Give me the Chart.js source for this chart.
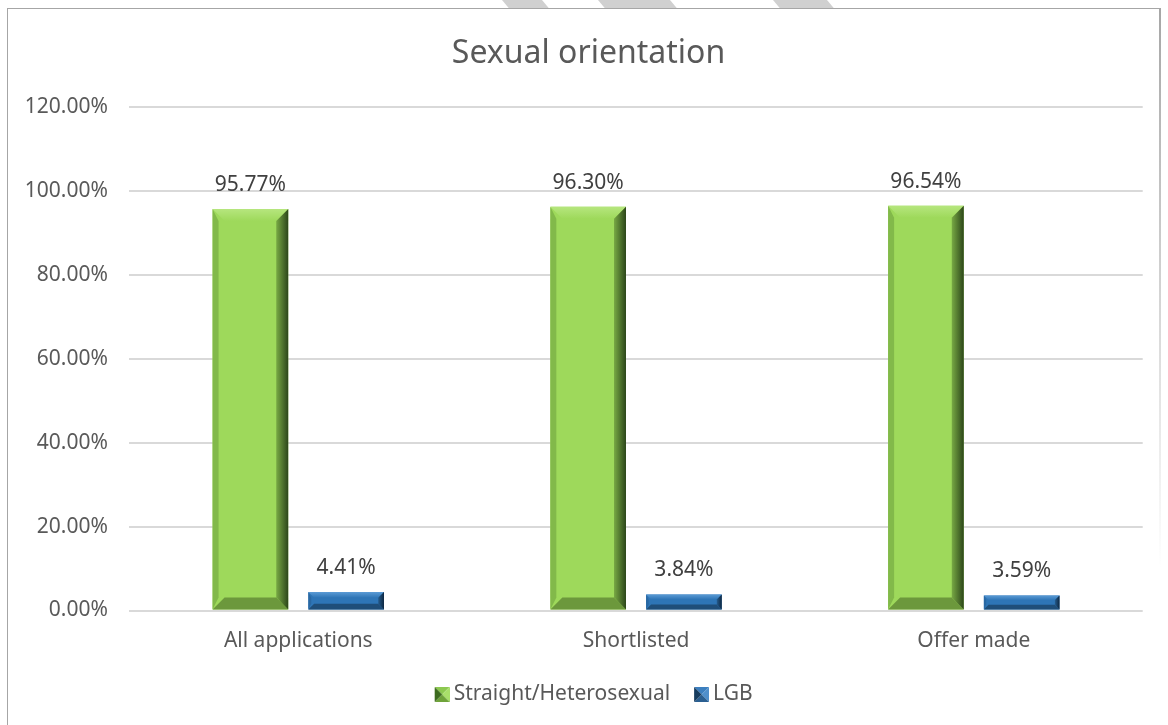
<!DOCTYPE html>
<html>
<head>
<meta charset="utf-8">
<title>Sexual orientation</title>
<script src="https://cdn.jsdelivr.net/npm/chart.js@4.4.1/dist/chart.umd.min.js"></script>
<style>
    html, body { margin: 0; padding: 0; background: #fff; }
    #wrap { position: relative; width: 1168px; height: 725px; overflow: hidden; }
    #frame {
        position: absolute; left: 7px; top: 8px; width: 1152px; height: 760px;
        border-left: 1.5px solid #a6a6a6; border-top: 1.5px solid #a6a6a6;
    }
    #frame-right {
        position: absolute; left: 1159px; top: 8px; width: 1.5px; height: 560px;
        background: linear-gradient(#a6a6a6, rgba(166,166,166,0));
    }
    .stripe { position: absolute; top: 0; height: 8px; background: #d0d0d0; transform: skewX(40deg); transform-origin: top left; }
    #chart { position: absolute; left: 0; top: 0; }
</style>
</head>
<body>
<div id="wrap">
    <div class="stripe" style="left:502px;width:40px"></div>
    <div class="stripe" style="left:598px;width:72px"></div>
    <div class="stripe" style="left:773px;width:54px"></div>
    <div id="frame"></div>
    <div id="frame-right"></div>
    <canvas id="chart" width="1168" height="725"></canvas>
</div>
<script>
const categories = ['All applications', 'Shortlisted', 'Offer made'];
const seriesNames = ['Straight/Heterosexual', 'LGB'];
const straight = [95.77, 96.30, 96.54];
const lgb = [4.41, 3.84, 3.59];
const yTicks = [0, 20, 40, 60, 80, 100, 120];

const textColor = '#595959';
Chart.defaults.font.family = '"Noto Sans", "Open Sans", sans-serif';
Chart.defaults.color = textColor;

// face colours for the bevelled bars: main, top, left, bottom, right (inner -> outer)
const shades = [
    { main: '#9ed95b', top: '#b6e67e', left: '#82b94a', bottom: '#6c983c', rightIn: '#78a944', rightOut: '#2c461a' },
    { main: '#2e75b6', top: '#5b9bd5', left: '#2968a3', bottom: '#1f4e79', rightIn: '#245b8d', rightOut: '#0e2740' }
];

// small pyramid-shaded legend markers, drawn on the right of a wider transparent canvas
function makeIcon(c) {
    const cv = document.createElement('canvas');
    cv.width = 32; cv.height = 15;
    const g = cv.getContext('2d');
    const x0 = 17, x1 = 32, cx = 24.5, cy = 7.5;
    const tri = (pts, col) => {
        g.beginPath();
        g.moveTo(pts[0][0], pts[0][1]);
        pts.slice(1).forEach(p => g.lineTo(p[0], p[1]));
        g.closePath();
        g.fillStyle = col;
        g.fill();
    };
    tri([[x0, 0], [x1, 0], [cx, cy]], c.top);
    tri([[x1, 0], [x1, 15], [cx, cy]], c.right);
    tri([[x0, 15], [x1, 15], [cx, cy]], c.bottom);
    tri([[x0, 0], [x0, 15], [cx, cy]], c.left);
    return cv;
}
const legendIcons = [
    makeIcon({ top: '#8cc850', right: '#a9df6a', bottom: '#6fa33a', left: '#3d6b1f' }),
    makeIcon({ top: '#3c7fbf', right: '#4f8fcb', bottom: '#2a5f91', left: '#163c5e' })
];

const bevelPlugin = {
    id: 'bevel',
    afterDatasetsDraw(chart) {
        const ctx = chart.ctx;
        chart.data.datasets.forEach((ds, i) => {
            const s = shades[i];
            chart.getDatasetMeta(i).data.forEach(bar => {
                const { x, y, base, width } = bar.getProps(['x', 'y', 'base', 'width'], true);
                const l = x - width / 2, r = x + width / 2, t = y, b = base;
                const d = Math.min(12, (b - t) * 0.33, width / 4);
                const poly = (pts, fill) => {
                    ctx.beginPath();
                    ctx.moveTo(pts[0][0], pts[0][1]);
                    pts.slice(1).forEach(p => ctx.lineTo(p[0], p[1]));
                    ctx.closePath();
                    ctx.fillStyle = fill;
                    ctx.fill();
                };
                ctx.save();
                const topGrad = ctx.createLinearGradient(0, t, 0, t + d);
                topGrad.addColorStop(0, s.top);
                topGrad.addColorStop(1, s.main);
                poly([[l, t], [r, t], [r - d, t + d], [l + d, t + d]], topGrad);
                poly([[l, b], [r, b], [r - d, b - d], [l + d, b - d]], s.bottom);
                poly([[l, t], [l + d * 0.5, t + d], [l + d * 0.5, b - d], [l, b]], s.left);
                const grad = ctx.createLinearGradient(r - d, 0, r, 0);
                grad.addColorStop(0, s.rightIn);
                grad.addColorStop(1, s.rightOut);
                poly([[r, t], [r, b], [r - d, b - d], [r - d, t + d]], grad);
                ctx.restore();
            });
        });
    }
};

const valueLabels = {
    id: 'valueLabels',
    afterDatasetsDraw(chart) {
        const ctx = chart.ctx;
        ctx.save();
        ctx.font = '21px "Noto Sans", "Open Sans", sans-serif';
        ctx.fillStyle = '#404040';
        ctx.textAlign = 'center';
        ctx.textBaseline = 'alphabetic';
        chart.data.datasets.forEach((ds, i) => {
            chart.getDatasetMeta(i).data.forEach((bar, j) => {
                ctx.fillText(ds.data[j].toFixed(2) + '%', bar.x, bar.y - 18);
            });
        });
        ctx.restore();
    }
};

// centre title and legend over the framed box rather than the whole canvas
const frameOffset = {
    id: 'frameOffset',
    afterLayout(chart) {
        chart.titleBlock.left = 34.3;
        chart.legend.left = 34.1;
    }
};

const ctx = document.getElementById('chart').getContext('2d');
new Chart(ctx, {
    type: 'bar',
    data: {
        labels: categories,
        datasets: [
            { label: seriesNames[0], data: straight, backgroundColor: shades[0].main, borderWidth: 0 },
            { label: seriesNames[1], data: lgb, backgroundColor: shades[1].main, borderWidth: 0 }
        ]
    },
    options: {
        responsive: false,
        animation: false,
        devicePixelRatio: 1,
        categoryPercentage: 0.567,
        barPercentage: 0.79,
        layout: { padding: { left: 0, right: 25.3, top: 0, bottom: 10 } },
        scales: {
            x: {
                grid: { display: false },
                border: { display: false },
                ticks: { padding: 9.5, font: { size: 21 }, color: textColor },
                afterFit(scale) { scale.height = 60; }
            },
            y: {
                min: 0,
                max: 120,
                afterBuildTicks(scale) { scale.ticks = yTicks.map(v => ({ value: v })); },
                grid: { color: '#d9d9d9', lineWidth: 2, drawTicks: false },
                border: { display: false },
                ticks: {
                    padding: 21.5,
                    font: { size: 21 },
                    color: textColor,
                    callback: v => v.toFixed(2) + '%'
                },
                afterFit(scale) { scale.width = 129.4; }
            }
        },
        plugins: {
            title: {
                display: true,
                text: 'Sexual orientation',
                color: textColor,
                font: { size: 32, weight: 'normal' },
                padding: { top: 34.8, bottom: 34.2 }
            },
            legend: {
                position: 'bottom',
                labels: {
                    usePointStyle: true,
                    boxWidth: 19,
                    padding: 13.5,
                    color: textColor,
                    font: { size: 21 },
                    generateLabels(chart) {
                        const items = Chart.defaults.plugins.legend.labels.generateLabels(chart);
                        items.forEach((it, i) => { it.pointStyle = legendIcons[i]; });
                        return items;
                    }
                }
            },
            tooltip: { enabled: false }
        }
    },
    plugins: [bevelPlugin, valueLabels, frameOffset]
});
</script>
</body>
</html>
